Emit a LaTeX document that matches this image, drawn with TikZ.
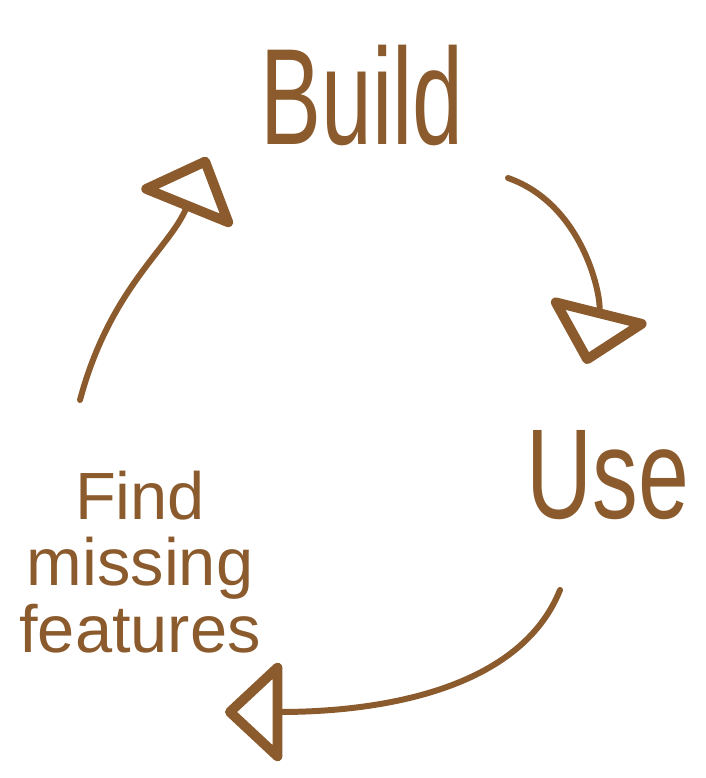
\documentclass[tikz,border=0pt]{standalone}
\usepackage{fontspec}
\setmainfont{Liberation Sans}
\usetikzlibrary{arrows.meta}
\definecolor{ink}{RGB}{139,91,45}

\begin{document}
\begin{tikzpicture}[x=0.01cm, y=0.01cm, word/.style={text=ink, inner sep=0pt, font=\fontsize{26}{30}\selectfont}, small/.style={text=ink, inner sep=0pt, align=center, font=\fontsize{19}{19}\selectfont}, loop/.style={draw=ink, line width=1.7pt, line cap=round, -{Triangle[open, length=17pt, width=31pt, line width=2.8pt, round]}}]

  \useasboundingbox (0,0) rectangle (706,778);

  \node[word] (build) at (362,683) {\scalebox{1}[1.5]{Build}};
  \node[word] (use) at (608,303) {\scalebox{1}[1.4]{Use}};
  \node[small] (find) at (140,216) {Find\\missing\\features};

  \coordinate (buildout) at (508,600);
  \coordinate (usein) at (586,414);
  \coordinate (useout) at (560,188);
  \coordinate (findin) at (225,66);
  \coordinate (findout) at (80,378);
  \coordinate (buildin) at (207,621);

  \draw[loop] (buildout) .. controls (585,573) and (602,478) .. (usein);
  \draw[loop] (useout) .. controls (520,88) and (380,66) .. (findin);
  \draw[loop] (findout) .. controls (110,490) and (170,530) .. (buildin);
\end{tikzpicture}
\end{document}
